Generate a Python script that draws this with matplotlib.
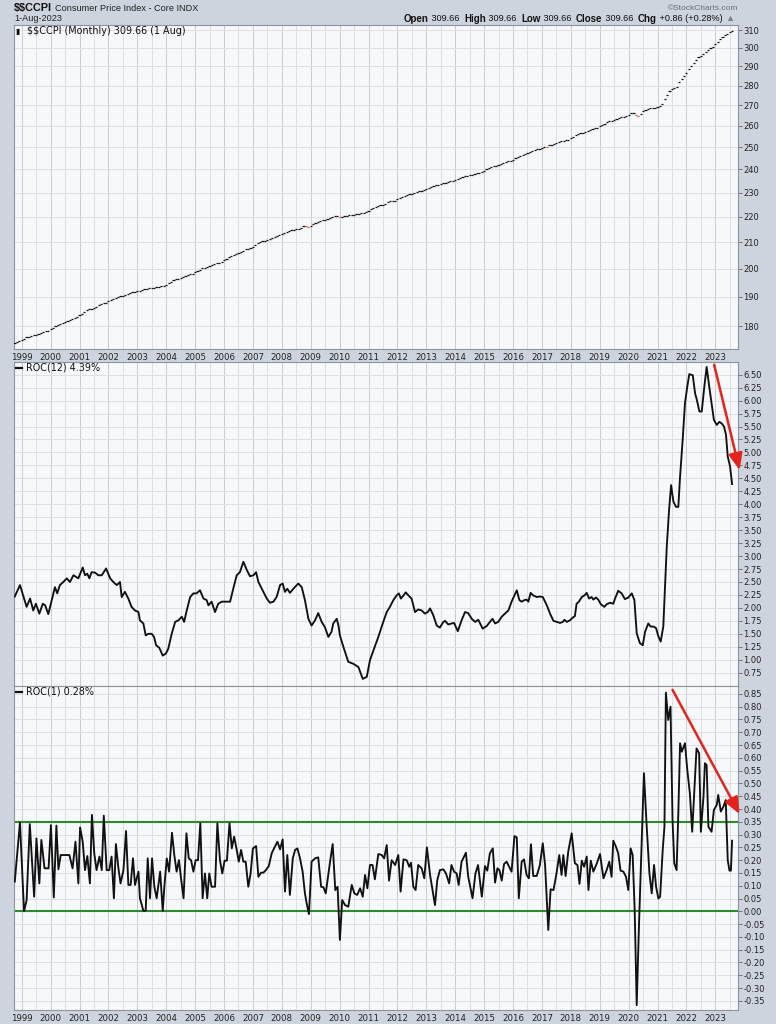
import numpy as np
import matplotlib
matplotlib.use("Agg")
import matplotlib.pyplot as plt
from matplotlib.lines import Line2D
from matplotlib.ticker import FixedLocator, FixedFormatter, NullLocator

# ---------------- data ----------------
price_start_year = 1998
price_start_month = 10  # Oct 1998 (monthly bars)
price_1998 = [174.6, 174.9, 175.0]
price_1999 = [175.4, 175.9, 176.3, 176.6, 176.8, 177.0, 177.2, 177.5, 177.8, 178.1, 178.3, 178.4]
price_2000 = [179.0, 179.5, 180.1, 180.5, 180.8, 181.1, 181.4, 181.7, 182.1, 182.5, 182.8, 182.9]
price_2001 = [183.6, 184.2, 184.8, 185.3, 185.6, 185.9, 186.2, 186.6, 187.1, 187.5, 187.8, 187.9]
price_2002 = [188.4, 188.8, 189.3, 189.6, 189.9, 190.1, 190.3, 190.6, 191.0, 191.3, 191.5, 191.6]
price_2003 = [191.9, 192.1, 192.4, 192.6, 192.7, 192.9, 193.0, 193.2, 193.3, 193.5, 193.6, 193.7]
price_2004 = [194.3, 194.8, 195.3, 195.8, 196.1, 196.3, 196.6, 197.0, 197.4, 197.8, 198.0, 198.1]
price_2005 = [198.7, 199.2, 199.7, 200.1, 200.4, 200.7, 200.9, 201.3, 201.7, 202.1, 202.3, 202.4]
price_2006 = [203.1, 203.7, 204.3, 204.8, 205.2, 205.5, 205.8, 206.3, 206.7, 207.2, 207.4, 207.6]
price_2007 = [208.3, 208.9, 209.5, 210.0, 210.3, 210.6, 210.9, 211.3, 211.8, 212.2, 212.5, 212.6]
price_2008 = [213.1, 213.5, 214.0, 214.3, 214.6, 214.8, 215.0, 215.3, 215.7, 216.3, 216.2, 216.0]
price_2009 = [216.5, 217.0, 217.5, 217.9, 218.3, 218.6, 218.9, 219.3, 219.7, 220.0, 220.2, 220.3]
price_2010 = [220.0, 220.1, 220.3, 220.5, 220.6, 220.8, 220.9, 221.1, 221.3, 221.5, 221.7, 221.8]
price_2011 = [222.4, 223.0, 223.6, 224.1, 224.4, 224.7, 225.0, 225.4, 225.9, 226.3, 226.6, 226.7]
price_2012 = [227.3, 227.8, 228.3, 228.7, 229.0, 229.3, 229.5, 229.9, 230.3, 230.7, 230.9, 231.0]
price_2013 = [231.5, 232.0, 232.4, 232.8, 233.1, 233.3, 233.6, 233.9, 234.2, 234.6, 234.8, 234.9]
price_2014 = [235.4, 235.9, 236.3, 236.7, 237.0, 237.2, 237.4, 237.7, 238.1, 238.4, 238.6, 238.7]
price_2015 = [239.4, 240.0, 240.6, 241.1, 241.4, 241.7, 242.0, 242.4, 242.9, 243.3, 243.6, 243.7]
price_2016 = [244.4, 245.1, 245.7, 246.2, 246.6, 246.9, 247.3, 247.7, 248.2, 248.7, 249.0, 249.1]
price_2017 = [249.7, 250.3, 250.2, 250.8, 251.2, 251.5, 251.8, 252.3, 252.7, 253.1, 253.4, 253.5]
price_2018 = [254.2, 254.9, 255.5, 256.1, 256.5, 256.8, 257.1, 257.6, 258.1, 258.6, 258.8, 259.0]
price_2019 = [259.7, 260.4, 261.1, 261.7, 262.1, 262.4, 262.8, 263.2, 263.7, 264.2, 264.5, 264.7]
price_2020 = [265.4, 266.0, 266.0, 265.0, 264.9, 265.5, 267.0, 267.9, 268.3, 268.5, 268.7, 268.9]
price_2021 = [269.3, 269.8, 270.6, 273.0, 275.0, 277.4, 278.3, 278.8, 279.3, 281.6, 283.2, 284.9]
price_2022 = [286.7, 288.6, 290.4, 292.0, 293.6, 295.0, 295.5, 296.6, 298.0, 299.1, 299.7, 300.3]
price_2023 = [301.9, 303.4, 304.8, 306.1, 307.3, 308.0, 308.8, 309.66]

price_ticks = [180, 190, 200, 210, 220, 230, 240, 250, 260, 270, 280, 290, 300, 310]

roc12_t = [1998.76, 1998.94, 1999.17, 1999.29, 1999.40, 1999.49, 1999.61, 1999.73, 1999.81, 1999.92,
           2000.04, 2000.15, 2000.23, 2000.32, 2000.44, 2000.56, 2000.67, 2000.79, 2000.96,
           2001.11, 2001.19, 2001.27, 2001.34, 2001.42, 2001.54, 2001.65, 2001.77, 2001.92,
           2002.06, 2002.17, 2002.29, 2002.40, 2002.46, 2002.57, 2002.69, 2002.80, 2002.92,
           2003.04, 2003.09, 2003.21, 2003.29, 2003.38, 2003.50, 2003.58, 2003.65, 2003.76, 2003.88, 2003.99,
           2004.07, 2004.19, 2004.31, 2004.42, 2004.54, 2004.62, 2004.71, 2004.83, 2004.94,
           2005.05, 2005.17, 2005.29, 2005.40, 2005.46, 2005.57, 2005.69, 2005.80, 2005.92,
           2006.09, 2006.21, 2006.32, 2006.44, 2006.55, 2006.67, 2006.79, 2006.90,
           2007.02, 2007.11, 2007.19, 2007.36, 2007.48, 2007.59, 2007.71, 2007.82, 2007.94,
           2008.03, 2008.11, 2008.19, 2008.28, 2008.40, 2008.57, 2008.69, 2008.80, 2008.92,
           2009.03, 2009.15, 2009.26, 2009.38, 2009.49, 2009.61, 2009.72, 2009.78, 2009.90, 2009.96,
           2010.01, 2010.13, 2010.30, 2010.48, 2010.65, 2010.80, 2010.94,
           2011.05, 2011.17, 2011.34, 2011.51, 2011.63, 2011.74, 2011.86, 2011.97,
           2012.05, 2012.12, 2012.21, 2012.29, 2012.38, 2012.49, 2012.61, 2012.72, 2012.84, 2012.95,
           2013.05, 2013.13, 2013.24, 2013.36, 2013.47, 2013.59, 2013.65, 2013.76, 2013.88, 2013.96,
           2014.09, 2014.22, 2014.34, 2014.45, 2014.57, 2014.69, 2014.80, 2014.95,
           2015.09, 2015.20, 2015.29, 2015.38, 2015.49, 2015.61, 2015.72, 2015.84, 2015.95,
           2016.05, 2016.13, 2016.22, 2016.30, 2016.39, 2016.47, 2016.53, 2016.61, 2016.70, 2016.82, 2016.93,
           2017.03, 2017.17, 2017.28, 2017.40, 2017.51, 2017.63, 2017.72, 2017.78, 2017.86, 2017.97,
           2018.06, 2018.14, 2018.20, 2018.28, 2018.38, 2018.47, 2018.55, 2018.63, 2018.72, 2018.78, 2018.87, 2018.95,
           2019.04, 2019.16, 2019.24, 2019.36, 2019.47, 2019.53, 2019.64, 2019.76, 2019.87, 2019.99,
           2020.11, 2020.20, 2020.28, 2020.39, 2020.49, 2020.57, 2020.68, 2020.76, 2020.86, 2020.95,
           2021.03, 2021.11, 2021.20, 2021.26, 2021.32, 2021.40, 2021.47, 2021.55, 2021.64, 2021.72, 2021.78, 2021.87, 2021.95,
           2022.03, 2022.10, 2022.22, 2022.30, 2022.35, 2022.45, 2022.53, 2022.62, 2022.70, 2022.79, 2022.87, 2022.95,
           2023.05, 2023.14, 2023.22, 2023.30, 2023.37, 2023.43, 2023.51, 2023.58]
roc12_v = [2.22, 2.44, 2.02, 2.18, 1.95, 2.08, 1.89, 2.08, 2.05, 1.88,
           2.15, 2.40, 2.28, 2.44, 2.50, 2.57, 2.50, 2.63, 2.57,
           2.78, 2.63, 2.66, 2.57, 2.69, 2.68, 2.63, 2.63, 2.76,
           2.57, 2.50, 2.44, 2.50, 2.21, 2.31, 2.18, 2.02, 1.95,
           1.92, 1.76, 1.70, 1.47, 1.50, 1.50, 1.44, 1.28, 1.23, 1.08, 1.12,
           1.21, 1.50, 1.73, 1.76, 1.83, 1.73, 1.95, 2.21, 2.28,
           2.28, 2.34, 2.18, 2.15, 2.05, 2.12, 1.92, 2.08, 2.12,
           2.12, 2.12, 2.37, 2.63, 2.69, 2.89, 2.73, 2.61,
           2.63, 2.69, 2.50, 2.31, 2.18, 2.10, 2.12, 2.21, 2.44,
           2.47, 2.31, 2.37, 2.29, 2.37, 2.47, 2.40, 2.15, 1.79,
           1.66, 1.76, 1.90, 1.73, 1.63, 1.44, 1.54, 1.70, 1.79, 1.66,
           1.47, 1.25, 0.96, 0.92, 0.86, 0.63, 0.67,
           0.99, 1.18, 1.44, 1.73, 1.92, 2.02, 2.15, 2.24,
           2.28, 2.18, 2.24, 2.30, 2.24, 2.18, 1.92, 1.97, 1.95, 1.89,
           1.92, 1.99, 1.86, 1.66, 1.62, 1.73, 1.75, 1.68, 1.70, 1.71,
           1.55, 1.76, 1.92, 1.90, 1.79, 1.73, 1.77, 1.60,
           1.65, 1.73, 1.79, 1.70, 1.73, 1.83, 1.89, 1.95, 2.12,
           2.24, 2.34, 2.15, 2.12, 2.15, 2.16, 2.12, 2.29, 2.24, 2.21, 2.22,
           2.21, 2.05, 1.89, 1.75, 1.73, 1.71, 1.73, 1.77, 1.73, 1.76,
           1.81, 1.84, 2.08, 2.12, 2.21, 2.24, 2.29, 2.18, 2.21, 2.16, 2.20, 2.16,
           2.07, 2.02, 2.07, 2.10, 2.08, 2.18, 2.33, 2.28, 2.17, 2.20,
           2.28, 2.15, 1.51, 1.32, 1.28, 1.54, 1.70, 1.64, 1.64, 1.61,
           1.45, 1.35, 1.64, 2.41, 3.18, 3.89, 4.37, 4.05, 3.95, 3.95, 4.53, 5.24, 5.95,
           6.27, 6.51, 6.49, 6.14, 6.04, 5.79, 5.79, 6.27, 6.65, 6.27, 5.95, 5.63,
           5.53, 5.59, 5.56, 5.50, 5.34, 4.92, 4.73, 4.39]
roc12_ticks = [0.75, 1.00, 1.25, 1.50, 1.75, 2.00, 2.25, 2.50, 2.75, 3.00, 3.25, 3.50, 3.75,
               4.00, 4.25, 4.50, 4.75, 5.00, 5.25, 5.50, 5.75, 6.00, 6.25, 6.50]

roc1_t = [1998.76, 1998.94, 1999.08, 1999.17, 1999.28, 1999.43, 1999.51, 1999.61, 1999.68, 1999.79, 1999.93,
          2000.01, 2000.11, 2000.20, 2000.27, 2000.35, 2000.50, 2000.65, 2000.76, 2000.86, 2000.96,
          2001.02, 2001.11, 2001.19, 2001.27, 2001.36, 2001.43, 2001.51, 2001.59, 2001.69, 2001.77, 2001.84, 2001.94,
          2002.03, 2002.11, 2002.19, 2002.26, 2002.34, 2002.42, 2002.52, 2002.61, 2002.69, 2002.77, 2002.85, 2002.92,
          2003.04, 2003.09, 2003.21, 2003.29, 2003.36, 2003.44, 2003.51, 2003.59, 2003.67, 2003.79, 2003.88, 2003.94,
          2004.02, 2004.10, 2004.20, 2004.28, 2004.36, 2004.44, 2004.52, 2004.60, 2004.70, 2004.78, 2004.86, 2004.94,
          2005.02, 2005.10, 2005.18, 2005.26, 2005.34, 2005.42, 2005.49, 2005.57, 2005.69, 2005.77, 2005.86, 2005.94,
          2006.02, 2006.10, 2006.19, 2006.27, 2006.35, 2006.43, 2006.51, 2006.59, 2006.67, 2006.75, 2006.84, 2006.92,
          2007.00, 2007.11, 2007.19, 2007.28, 2007.36, 2007.45, 2007.55, 2007.65, 2007.77, 2007.85, 2007.94,
          2008.03, 2008.11, 2008.19, 2008.28, 2008.38, 2008.46, 2008.54, 2008.63, 2008.72, 2008.80, 2008.86, 2008.94,
          2009.03, 2009.15, 2009.26, 2009.36, 2009.44, 2009.52, 2009.67, 2009.76, 2009.85, 2009.93,
          2010.01, 2010.09, 2010.19, 2010.30, 2010.42, 2010.51, 2010.61, 2010.71, 2010.80, 2010.88, 2010.96,
          2011.05, 2011.14, 2011.22, 2011.34, 2011.46, 2011.54, 2011.63, 2011.71, 2011.80, 2011.92,
          2012.03, 2012.11, 2012.21, 2012.32, 2012.41, 2012.47, 2012.55, 2012.63, 2012.72, 2012.84, 2012.93,
          2013.02, 2013.13, 2013.30, 2013.38, 2013.47, 2013.59, 2013.68, 2013.79, 2013.87, 2013.96,
          2014.05, 2014.12, 2014.22, 2014.37, 2014.45, 2014.60, 2014.70, 2014.79, 2014.92,
          2015.03, 2015.11, 2015.20, 2015.30, 2015.38, 2015.46, 2015.53, 2015.61, 2015.69, 2015.78, 2015.95,
          2016.05, 2016.13, 2016.20, 2016.30, 2016.38, 2016.47, 2016.55, 2016.62, 2016.70, 2016.82, 2016.93,
          2017.03, 2017.11, 2017.22, 2017.30, 2017.40, 2017.49, 2017.60, 2017.68, 2017.74, 2017.82, 2017.91,
          2018.03, 2018.14, 2018.23, 2018.30, 2018.38, 2018.46, 2018.55, 2018.61, 2018.69, 2018.78, 2018.90,
          2019.01, 2019.13, 2019.24, 2019.33, 2019.41, 2019.47, 2019.56, 2019.64, 2019.72, 2019.82, 2019.91, 2019.99,
          2020.07, 2020.14, 2020.21, 2020.28, 2020.36, 2020.53, 2020.62, 2020.72, 2020.80, 2020.88, 2020.95,
          2021.03, 2021.09, 2021.18, 2021.24, 2021.29, 2021.37, 2021.45, 2021.52, 2021.58, 2021.66, 2021.72, 2021.78, 2021.84, 2021.95,
          2022.03, 2022.12, 2022.20, 2022.27, 2022.35, 2022.44, 2022.50, 2022.59, 2022.64, 2022.70, 2022.76, 2022.87, 2022.95,
          2023.05, 2023.10, 2023.19, 2023.28, 2023.36, 2023.43, 2023.49, 2023.54, 2023.58]
roc1_v = [0.116, 0.348, 0.000, 0.044, 0.341, 0.057, 0.285, 0.109, 0.279, 0.168, 0.168,
          0.337, 0.054, 0.335, 0.164, 0.220, 0.220, 0.220, 0.168, 0.272, 0.109,
          0.328, 0.272, 0.161, 0.216, 0.109, 0.377, 0.227, 0.161, 0.214, 0.161, 0.374, 0.161,
          0.161, 0.214, 0.051, 0.263, 0.174, 0.109, 0.161, 0.314, 0.103, 0.103, 0.207, 0.103,
          0.155, 0.051, 0.002, 0.002, 0.207, 0.051, 0.207, 0.096, 0.051, 0.155, 0.002, 0.103,
          0.207, 0.155, 0.307, 0.220, 0.155, 0.200, 0.122, 0.051, 0.305, 0.207, 0.200, 0.155,
          0.200, 0.200, 0.344, 0.051, 0.148, 0.051, 0.148, 0.096, 0.096, 0.344, 0.200, 0.148,
          0.198, 0.198, 0.344, 0.246, 0.292, 0.246, 0.194, 0.240, 0.194, 0.194, 0.096, 0.148,
          0.246, 0.255, 0.135, 0.151, 0.151, 0.161, 0.177, 0.227, 0.255, 0.272, 0.242,
          0.281, 0.077, 0.220, 0.064, 0.207, 0.240, 0.246, 0.207, 0.155, 0.070, 0.031, -0.011,
          0.194, 0.207, 0.211, 0.096, 0.094, 0.070, 0.194, 0.263, 0.083, 0.096,
          -0.112, 0.044, 0.024, 0.018, 0.103, 0.070, 0.064, 0.090, 0.057, 0.142, 0.090,
          0.181, 0.181, 0.125, 0.224, 0.220, 0.207, 0.259, 0.120, 0.200, 0.181,
          0.220, 0.077, 0.203, 0.200, 0.174, 0.190, 0.096, 0.083, 0.181, 0.168, 0.129,
          0.250, 0.142, 0.024, 0.122, 0.161, 0.164, 0.148, 0.109, 0.181, 0.155,
          0.148, 0.103, 0.194, 0.229, 0.135, 0.051, 0.148, 0.181, 0.057,
          0.177, 0.159, 0.227, 0.246, 0.112, 0.168, 0.161, 0.120, 0.185, 0.194, 0.155,
          0.294, 0.289, 0.051, 0.194, 0.203, 0.142, 0.129, 0.262, 0.138, 0.138, 0.181,
          0.266, 0.181, -0.073, 0.086, 0.083, 0.138, 0.220, 0.142, 0.220, 0.138, 0.233,
          0.305, 0.188, 0.181, 0.107, 0.198, 0.174, 0.214, 0.083, 0.198, 0.155, 0.187,
          0.224, 0.129, 0.161, 0.194, 0.135, 0.276, 0.253, 0.227, 0.159, 0.155, 0.135, 0.083,
          0.246, 0.220, 0.005, -0.367, -0.050, 0.540, 0.344, 0.148, 0.070, 0.181, 0.096,
          0.050, 0.057, 0.240, 0.331, 0.855, 0.748, 0.800, 0.357, 0.187, 0.161, 0.383, 0.657, 0.624, 0.657,
          0.553, 0.461, 0.311, 0.461, 0.637, 0.618, 0.311, 0.448, 0.579, 0.572, 0.331, 0.311, 0.396,
          0.416, 0.455, 0.390, 0.409, 0.435, 0.200, 0.159, 0.159, 0.276]
roc1_ticks = [-0.35, -0.30, -0.25, -0.20, -0.15, -0.10, -0.05, 0.00, 0.05, 0.10, 0.15, 0.20,
              0.25, 0.30, 0.35, 0.40, 0.45, 0.50, 0.55, 0.60, 0.65, 0.70, 0.75, 0.80, 0.85]
roc1_band = [0.00, 0.35]

year_labels = [str(y) for y in range(1999, 2024)]

# arrows (start, end) drawn on the chart
arrow12 = [(2022.96, 6.69), (2023.84, 4.66)]
arrow1 = [(2021.52, 0.866), (2023.84, 0.380)]

# ---------------- style ----------------
W, H = 776, 1024
BG_OUT = '#cdd4de'
BG_IN = '#f6f8fa'
GRID = '#dde1e7'
GRID_YEAR = '#c6ccd4'
SPINE = '#8d939b'
TXT = '#222222'
RED = '#e3231c'
GREEN = '#2b8a2b'
HEAD_FONT = ['Liberation Sans', 'DejaVu Sans']

fig = plt.figure(figsize=(W / 100, H / 100), dpi=100, facecolor=BG_OUT)

def fx(px):
    return px / W

def fy(py):
    return 1 - py / H

left_px, right_px = 13.5, 738
XMIN, XMAX = 1998.716, 2023.785

def make_ax(top_px, bot_px):
    ax = fig.add_axes([fx(left_px), fy(bot_px), fx(right_px - left_px), (bot_px - top_px) / H])
    ax.set_facecolor(BG_IN)
    ax.set_xlim(XMIN, XMAX)
    for s in ax.spines.values():
        s.set_color(SPINE)
        s.set_linewidth(0.8)
    for y in range(1999, 2024):
        ax.axvline(y, color=GRID_YEAR, lw=0.7, zorder=0)
        ax.axvline(y + 0.5, color=GRID, lw=0.7, zorder=0)
    ax.yaxis.tick_right()
    ax.tick_params(axis='y', direction='out', length=3, width=0.6, color='#666666',
                   labelsize=6, labelcolor=TXT, pad=1)
    ax.tick_params(axis='x', length=0, labelsize=6.2, labelcolor=TXT, pad=3)
    ax.xaxis.set_major_locator(FixedLocator([float(y) for y in year_labels]))
    ax.xaxis.set_major_formatter(FixedFormatter(year_labels))
    ax.xaxis.set_minor_locator(NullLocator())
    return ax

# ---- top: price ----
ax1 = make_ax(25, 349)
ax1.set_yscale('log')
ax1.set_ylim(172.6, 312.9)
ax1.yaxis.set_major_locator(FixedLocator(price_ticks))
ax1.yaxis.set_major_formatter(FixedFormatter([str(t) for t in price_ticks]))
ax1.yaxis.set_minor_locator(NullLocator())
for t in price_ticks:
    ax1.axhline(t, color=GRID, lw=0.7, zorder=0)

price = (price_1998 + price_1999 + price_2000 + price_2001 + price_2002 + price_2003 + price_2004 +
         price_2005 + price_2006 + price_2007 + price_2008 + price_2009 + price_2010 + price_2011 +
         price_2012 + price_2013 + price_2014 + price_2015 + price_2016 + price_2017 + price_2018 +
         price_2019 + price_2020 + price_2021 + price_2022 + price_2023)
price = np.array(price)
mt = price_start_year + (price_start_month - 1) / 12 + np.arange(len(price)) / 12
cols = ['#111111'] + [('#e05050' if price[i] < price[i - 1] else '#111111') for i in range(1, len(price))]
ax1.hlines(price, mt - 0.45 / 12, mt + 0.45 / 12, colors=cols, lw=0.9, zorder=3)

# ---- middle: ROC(12) ----
ax2 = make_ax(362, 686)
ax2.set_ylim(0.493, 6.745)
ax2.yaxis.set_major_locator(FixedLocator(roc12_ticks))
ax2.yaxis.set_major_formatter(FixedFormatter(['%.2f' % t for t in roc12_ticks]))
for t in roc12_ticks:
    ax2.axhline(t, color=GRID, lw=0.7, zorder=0)
ax2.plot(roc12_t, roc12_v, color='#111111', lw=1.35, zorder=3, solid_joinstyle='round')
ax2.tick_params(axis='x', labelbottom=False)

# ---- bottom: ROC(1) ----
ax3 = make_ax(686, 1010)
ax3.set_ylim(-0.386, 0.881)
ax3.yaxis.set_major_locator(FixedLocator(roc1_ticks))
ax3.yaxis.set_major_formatter(FixedFormatter(['%.2f' % t for t in roc1_ticks]))
for t in roc1_ticks:
    ax3.axhline(t, color=GRID, lw=0.7, zorder=0)
for b in roc1_band:
    ax3.axhline(b, color=GREEN, lw=1.5, zorder=2)
ax3.plot(roc1_t, roc1_v, color='#111111', lw=1.35, zorder=3, solid_joinstyle='round')

for ax, arr in ((ax2, arrow12), (ax3, arrow1)):
    ax.annotate('', xy=arr[1], xytext=arr[0], xycoords='data', annotation_clip=False,
                arrowprops=dict(arrowstyle='-|>,head_length=1.0,head_width=0.42',
                                mutation_scale=10, color=RED, lw=1.8,
                                shrinkA=0, shrinkB=0), zorder=5)

# ---------------- texts ----------------
renderer = fig.canvas.get_renderer()
t0 = fig.text(fx(14), fy(8), '$$CCPI', fontsize=7.8, fontweight='bold', color='#111111',
              va='center', ha='left', family=HEAD_FONT, parse_math=False)
x_after = 14 + t0.get_window_extent(renderer=renderer).width + 3
fig.text(fx(x_after), fy(8.5), 'Consumer Price Index - Core INDX', fontsize=6.6, color='#222222',
         va='center', ha='left', family=HEAD_FONT)
fig.text(fx(14), fy(18.5), '1-Aug-2023', fontsize=6.6, color='#222222', va='center', ha='left',
         family=HEAD_FONT)
fig.text(fx(738), fy(8), '\u00a9StockCharts.com', fontsize=6, color='#6a6f76', va='center', ha='right',
         family=HEAD_FONT)

segs = [('Open', True), (' 309.66  ', False), ('High', True), (' 309.66  ', False),
        ('Low', True), (' 309.66  ', False), ('Close', True), (' 309.66  ', False),
        ('Chg', True), (' +0.86 (+0.28%) ', False), ('\u25b2', False)]
xcur = 404
for s, bold in segs:
    t = fig.text(fx(xcur), fy(18.5), s, fontsize=7.0 if bold else 6.6,
                 fontweight='bold' if bold else 'normal',
                 color='#111111' if s != '\u25b2' else '#7a8088',
                 va='center', ha='left', family=HEAD_FONT, parse_math=False)
    bb = t.get_window_extent(renderer=renderer)
    xcur += bb.width

# panel legends
fig.text(fx(15), fy(31.5), '\u25ae', fontsize=5.5, color='#111111', va='center', ha='left')
fig.text(fx(27), fy(31.5), '$$CCPI (Monthly) 309.66 (1 Aug)', fontsize=6.9, color='#111111',
         va='center', ha='left', parse_math=False)
for ypx, label in ((368, 'ROC(12) 4.39%'), (692, 'ROC(1) 0.28%')):
    fig.add_artist(Line2D([fx(16), fx(22)], [fy(ypx), fy(ypx)], color='#111111', lw=1.6))
    fig.text(fx(26), fy(ypx), label, fontsize=6.9, color='#111111', va='center', ha='left')

fig.savefig('out.png', dpi=100, facecolor=BG_OUT)
